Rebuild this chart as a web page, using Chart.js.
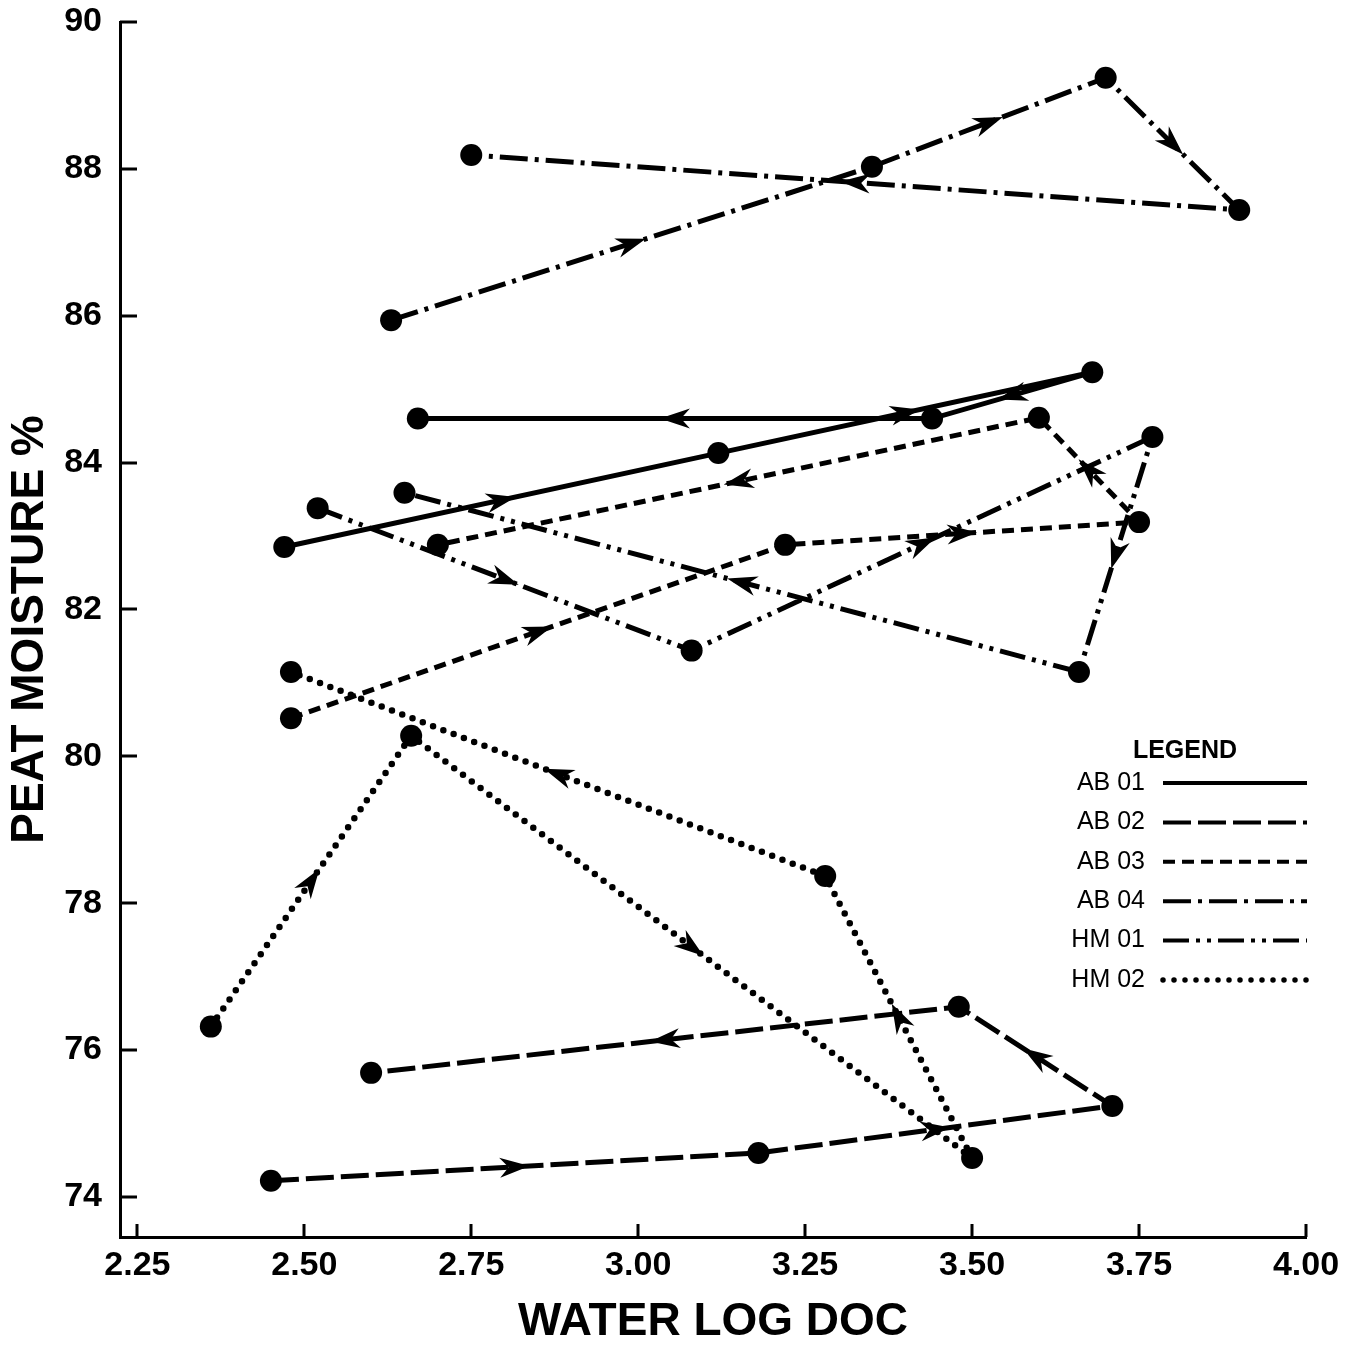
<!DOCTYPE html>
<html>
<head>
<meta charset="utf-8">
<title>Peat moisture vs water log DOC</title>
<script src="https://cdn.jsdelivr.net/npm/chart.js@4.4.1/dist/chart.umd.min.js"></script>
<style>
  html, body { margin: 0; padding: 0; background: #fff; }
  #wrap { width: 1357px; height: 1345px; }
</style>
</head>
<body>
<div id="wrap"><canvas id="peat-chart" width="1357" height="1345"></canvas></div>
<script>
// Site tracks: each site visited in order, arrows show the direction of travel.
const SITES = ["AB 01", "AB 02", "AB 03", "AB 04", "HM 01", "HM 02"];

const AB01_DOC = [2.47, 3.12, 3.68, 3.44, 2.67];
const AB01_MOIST = [82.85, 84.13, 85.23, 84.60, 84.60];

const AB02_DOC = [2.45, 3.18, 3.71, 3.48, 2.60];
const AB02_MOIST = [74.22, 74.60, 75.24, 76.59, 75.69];

const AB03_DOC = [2.48, 3.22, 3.75, 3.60, 2.70];
const AB03_MOIST = [80.52, 82.88, 83.19, 84.61, 82.88];

const AB04_DOC = [2.63, 3.35, 3.70, 3.90, 2.75];
const AB04_MOIST = [85.94, 88.03, 89.24, 87.44, 88.19];

const HM01_DOC = [2.52, 3.08, 3.77, 3.66, 2.65];
const HM01_MOIST = [83.38, 81.44, 84.35, 81.15, 83.59];

const HM02_DOC = [2.36, 2.66, 3.50, 3.28, 2.48];
const HM02_MOIST = [76.32, 80.28, 74.53, 78.37, 81.15];

const X_TICKS = [2.25, 2.50, 2.75, 3.00, 3.25, 3.50, 3.75, 4.00];
const Y_TICKS = [74, 76, 78, 80, 82, 84, 86, 88, 90];

(function () {
  const FONT = "'Liberation Sans', Arial, Helvetica, sans-serif";
  const INK = "#000";

  // Line style per site: width, dash pattern, cap.
  const STYLES = [
    { w: 5, dash: [], cap: "butt" },                       // AB 01 solid
    { w: 5, dash: [28, 7], cap: "butt" },                  // AB 02 long dash
    { w: 5, dash: [12, 7], cap: "butt" },                  // AB 03 short dash
    { w: 5, dash: [28, 7, 4, 7], cap: "butt" },            // AB 04 dash-dot
    { w: 5, dash: [26, 7, 4, 7, 4, 7], cap: "butt" },      // HM 01 dash-dot-dot
    { w: 6.5, dash: [0, 11], cap: "round" },               // HM 02 dotted
  ];

  const series = [
    [AB01_DOC, AB01_MOIST], [AB02_DOC, AB02_MOIST], [AB03_DOC, AB03_MOIST],
    [AB04_DOC, AB04_MOIST], [HM01_DOC, HM01_MOIST], [HM02_DOC, HM02_MOIST],
  ];

  const datasets = series.map(([xs, ys], i) => ({
    label: SITES[i],
    data: xs.map((x, k) => ({ x: x, y: ys[k] })),
    showLine: true,
    tension: 0,
    borderColor: INK,
    borderWidth: STYLES[i].w,
    borderDash: STYLES[i].dash,
    borderCapStyle: STYLES[i].cap,
    pointRadius: 11,
    pointHoverRadius: 11,
    pointBackgroundColor: INK,
    pointBorderWidth: 0,
  }));

  // Barbed arrowhead centred on each segment, pointing along the track.
  function drawArrow(ctx, x, y, ang) {
    const L = 30, W = 10, N = 9;
    ctx.save();
    ctx.translate(x, y);
    ctx.rotate(ang);
    ctx.beginPath();
    ctx.moveTo(L / 2, 0);
    ctx.lineTo(-L / 2, -W);
    ctx.lineTo(-L / 2 + N, 0);
    ctx.lineTo(-L / 2, W);
    ctx.closePath();
    ctx.fillStyle = INK;
    ctx.fill();
    ctx.restore();
  }

  const trackArrows = {
    id: "trackArrows",
    afterDatasetsDraw(chart) {
      const ctx = chart.ctx;
      chart.data.datasets.forEach((ds, i) => {
        const pts = chart.getDatasetMeta(i).data;
        for (let k = 0; k < pts.length - 1; k++) {
          const a = pts[k], b = pts[k + 1];
          const ang = Math.atan2(b.y - a.y, b.x - a.x);
          drawArrow(ctx, (a.x + b.x) / 2, (a.y + b.y) / 2, ang);
        }
      });
    },
  };

  // Tick marks point into the plot, so draw them by hand.
  const inwardTicks = {
    id: "inwardTicks",
    afterDraw(chart) {
      const { ctx, chartArea, scales } = chart;
      ctx.save();
      ctx.strokeStyle = INK;
      ctx.lineWidth = 3;
      ctx.beginPath();
      Y_TICKS.forEach(v => {
        const py = Math.round(scales.y.getPixelForValue(v));
        ctx.moveTo(chartArea.left, py);
        ctx.lineTo(chartArea.left + 17, py);
      });
      X_TICKS.forEach(v => {
        const px = Math.round(scales.x.getPixelForValue(v));
        ctx.moveTo(px, chartArea.bottom);
        ctx.lineTo(px, chartArea.bottom - 13);
      });
      ctx.stroke();
      ctx.restore();
    },
  };

  // Boxless legend: name on the left, line sample on the right.
  const siteLegend = {
    id: "siteLegend",
    afterDraw(chart) {
      const ctx = chart.ctx;
      const top = 783, step = 39.4;
      ctx.save();
      ctx.fillStyle = INK;
      ctx.textBaseline = "middle";
      ctx.textAlign = "center";
      ctx.font = "bold 25px " + FONT;
      ctx.fillText("LEGEND", 1185, 751);
      ctx.font = "25px " + FONT;
      ctx.textAlign = "right";
      chart.data.datasets.forEach((ds, i) => {
        const y = top + i * step;
        ctx.fillText(ds.label, 1145, y);
        ctx.strokeStyle = INK;
        ctx.lineWidth = STYLES[i].w - 1;
        ctx.lineCap = STYLES[i].cap;
        ctx.setLineDash(STYLES[i].dash);
        ctx.beginPath();
        ctx.moveTo(1163, y);
        ctx.lineTo(1307, y);
        ctx.stroke();
      });
      ctx.restore();
    },
  };

  new Chart(document.getElementById("peat-chart"), {
    type: "scatter",
    data: { datasets: datasets },
    options: {
      responsive: false,
      devicePixelRatio: 1,
      animation: false,
      events: [],
      layout: { padding: { top: 22, right: 51, left: 0, bottom: 0 } },
      plugins: { legend: { display: false }, tooltip: { enabled: false } },
      scales: {
        x: {
          type: "linear",
          min: 2.224,
          max: 4.0,
          afterBuildTicks: (s) => { s.ticks = X_TICKS.map(v => ({ value: v })); },
          afterFit: (s) => { s.height = 108; },
          grid: { display: false },
          border: { display: true, color: INK, width: 3 },
          ticks: {
            color: INK,
            padding: 0,
            maxRotation: 0,
            font: { family: FONT, size: 34, weight: "bold" },
            callback: (v) => Number(v).toFixed(2),
          },
          title: {
            display: true,
            text: "WATER LOG DOC",
            color: INK,
            font: { family: FONT, size: 46, weight: "bold", lineHeight: 1 },
            padding: { top: 0, bottom: 0 },
          },
        },
        y: {
          type: "linear",
          min: 73.455,
          max: 90,
          afterBuildTicks: (s) => { s.ticks = Y_TICKS.map(v => ({ value: v })); },
          // fixed gutter; the top label may overhang the plot edge
          afterFit: (s) => { s.width = 120; s.paddingTop = 0; s.paddingBottom = 0; },
          grid: { display: false },
          border: { display: true, color: INK, width: 3 },
          ticks: {
            color: INK,
            padding: 10,
            font: { family: FONT, size: 34, weight: "bold" },
            callback: (v) => String(v),
          },
          title: {
            display: true,
            text: "PEAT MOISTURE %",
            color: INK,
            font: { family: FONT, size: 46, weight: "bold" },
            padding: { top: 3, bottom: 0 },
          },
        },
      },
    },
    plugins: [trackArrows, inwardTicks, siteLegend],
  });
})();
</script>
</body>
</html>
